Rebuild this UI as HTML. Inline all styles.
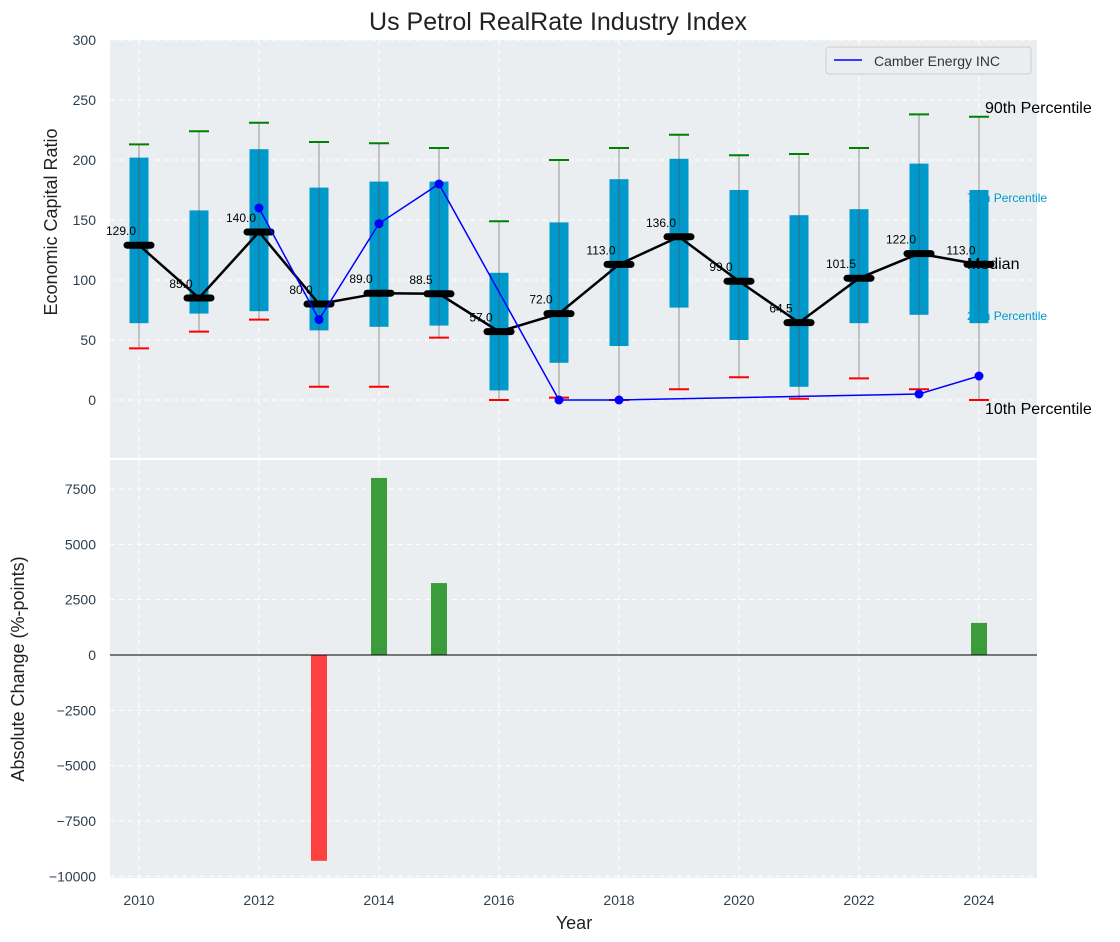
<!DOCTYPE html>
<html><head><meta charset="utf-8"><style>
body{margin:0;background:#fff;}
svg{display:block;font-family:"Liberation Sans","DejaVu Sans",sans-serif;}
</style></head><body>
<svg id="c" width="1120" height="942" viewBox="0 0 1120 942"></svg>
<script>
const years=[2010,2011,2012,2013,2014,2015,2016,2017,2018,2019,2020,2021,2022,2023,2024];
const q1=[64,72,74,58,61,62,8,31,45,77,50,11,64,71,64];
const q3=[202,158,209,177,182,182,106,148,184,201,175,154,159,197,175];
const p10=[43,57,67,11,11,52,0,2,0,9,19,1,18,9,0];
const p90=[213,224,231,215,214,210,149,200,210,221,204,205,210,238,236];
const medians=[129,85,140,80,89,88.5,57,72,113,136,99,64.5,101.5,122,113];
const camberYears=[2012,2013,2014,2015,2017,2018,2023,2024];
const camberVals=[160,67,147,180,0,0,5,20];
const changeYears=[2013,2014,2015,2024];
const changeVals=[-9300,8000,3250,1450];
const topTicks=[0,50,100,150,200,250,300];
const botTicks=[-10000,-7500,-5000,-2500,0,2500,5000,7500];
const xTicks=[2010,2012,2014,2016,2018,2020,2022,2024];

const NS="http://www.w3.org/2000/svg";
const svg=document.getElementById('c');
function el(t,a,p){const e=document.createElementNS(NS,t);for(const k in a)e.setAttribute(k,a[k]);(p||svg).appendChild(e);return e;}
const L=110,R=1037;
const X=v=>139+(v-2010)*60;
const Yt=v=>400-v*1.2;
const Yb=v=>655-v*0.02213;

let e=el('rect',{x:L,y:40,width:R-L,height:418,fill:'#eaeef0'});

e=el('rect',{x:L,y:460,width:R-L,height:418,fill:'#eaeef0'});


xTicks.forEach(t=>{
  el('line',{x1:X(t),x2:X(t),y1:40,y2:458,stroke:'#fff','stroke-dasharray':'5,4','stroke-width':1});
  el('line',{x1:X(t),x2:X(t),y1:460,y2:878,stroke:'#fff','stroke-dasharray':'5,4','stroke-width':1});
  e=el('text',{x:X(t),y:905,'text-anchor':'middle','font-size':14,fill:'#2c3e50'});e.textContent=t;
  
});
topTicks.forEach(t=>{
  el('line',{x1:L,x2:R,y1:Yt(t),y2:Yt(t),stroke:'#fff','stroke-dasharray':'5,4'});
  e=el('text',{x:96,y:Yt(t)+5,'text-anchor':'end','font-size':14,fill:'#2c3e50'});e.textContent=t;
  
});
botTicks.forEach(t=>{
  el('line',{x1:L,x2:R,y1:Yb(t),y2:Yb(t),stroke:'#fff','stroke-dasharray':'5,4'});
  e=el('text',{x:96,y:Yb(t)+5,'text-anchor':'end','font-size':14,fill:'#2c3e50'});e.textContent=(t<0?'\u2212'+(-t):t);
  
});

years.forEach((y,i)=>{
  const x=X(y);
  e=el('rect',{x:x-9.5,y:Yt(q3[i]),width:19,height:Yt(q1[i])-Yt(q3[i]),fill:'#0099cc'});
  
  el('line',{x1:x,x2:x,y1:Yt(p90[i]),y2:Yt(p10[i]),stroke:'#555','stroke-opacity':0.6,'stroke-width':1});
  e=el('line',{x1:x-10,x2:x+10,y1:Yt(p90[i]),y2:Yt(p90[i]),stroke:'green','stroke-width':2});
  
  e=el('line',{x1:x-10,x2:x+10,y1:Yt(p10[i]),y2:Yt(p10[i]),stroke:'red','stroke-width':2});
  
});
e=el('polyline',{points:years.map((y,i)=>X(y)+','+Yt(medians[i])).join(' '),fill:'none',stroke:'#000','stroke-width':2.5});

years.forEach((y,i)=>{
  e=el('line',{x1:X(y)-12,x2:X(y)+12,y1:Yt(medians[i]),y2:Yt(medians[i]),stroke:'#000','stroke-width':7,'stroke-linecap':'round'});
  
  e=el('text',{x:X(y)-18,y:Yt(medians[i])-10,'text-anchor':'middle','font-size':12,fill:'#000'});e.textContent=medians[i].toFixed(1);
  
});
e=el('polyline',{points:camberYears.map((y,i)=>X(y)+','+Yt(camberVals[i])).join(' '),fill:'none',stroke:'blue','stroke-width':1.5});

camberYears.forEach((y,i)=>{
  e=el('circle',{cx:X(y),cy:Yt(camberVals[i]),r:4.5,fill:'blue'});
  
});
[['90th Percentile',985,113,16,'#000'],['75th Percentile',967,202,12,'#0099cc'],['Median',967,269,16,'#000'],['25th Percentile',967,320,12,'#0099cc'],['10th Percentile',985,414,16,'#000']].forEach(a=>{
  e=el('text',{x:a[1],y:a[2],'font-size':a[3],fill:a[4]});e.textContent=a[0];
  
});
const lg=el('g',{});

el('rect',{x:826,y:47,width:205,height:27,rx:3,fill:'#eaeef0',stroke:'#ccc'},lg);
el('line',{x1:834,x2:862,y1:60,y2:60,stroke:'blue','stroke-width':1.5},lg);
e=el('text',{x:874,y:66,'font-size':14,fill:'#333'},lg);e.textContent='Camber Energy INC';

changeYears.forEach((y,i)=>{
  const v=changeVals[i];
  e=el('rect',{x:X(y)-8,y:Math.min(Yb(v),Yb(0)),width:16,height:Math.abs(Yb(v)-Yb(0)),fill:v<0?'#ff4040':'#3a9c3a'});
  
});
el('line',{x1:L,x2:R,y1:Yb(0),y2:Yb(0),stroke:'#000','stroke-width':1});

e=el('text',{x:558,y:30,'text-anchor':'middle','font-size':25,fill:'#222'});e.textContent='Us Petrol RealRate Industry Index';

e=el('text',{x:574,y:929,'text-anchor':'middle','font-size':18,fill:'#222'});e.textContent='Year';

e=el('text',{x:0,y:0,'text-anchor':'middle','font-size':18,fill:'#222',transform:'translate(57,222) rotate(-90)'});e.textContent='Economic Capital Ratio';

e=el('text',{x:0,y:0,'text-anchor':'middle','font-size':18,fill:'#222',transform:'translate(24,669) rotate(-90)'});e.textContent='Absolute Change (%-points)';

</script>
</body></html>
